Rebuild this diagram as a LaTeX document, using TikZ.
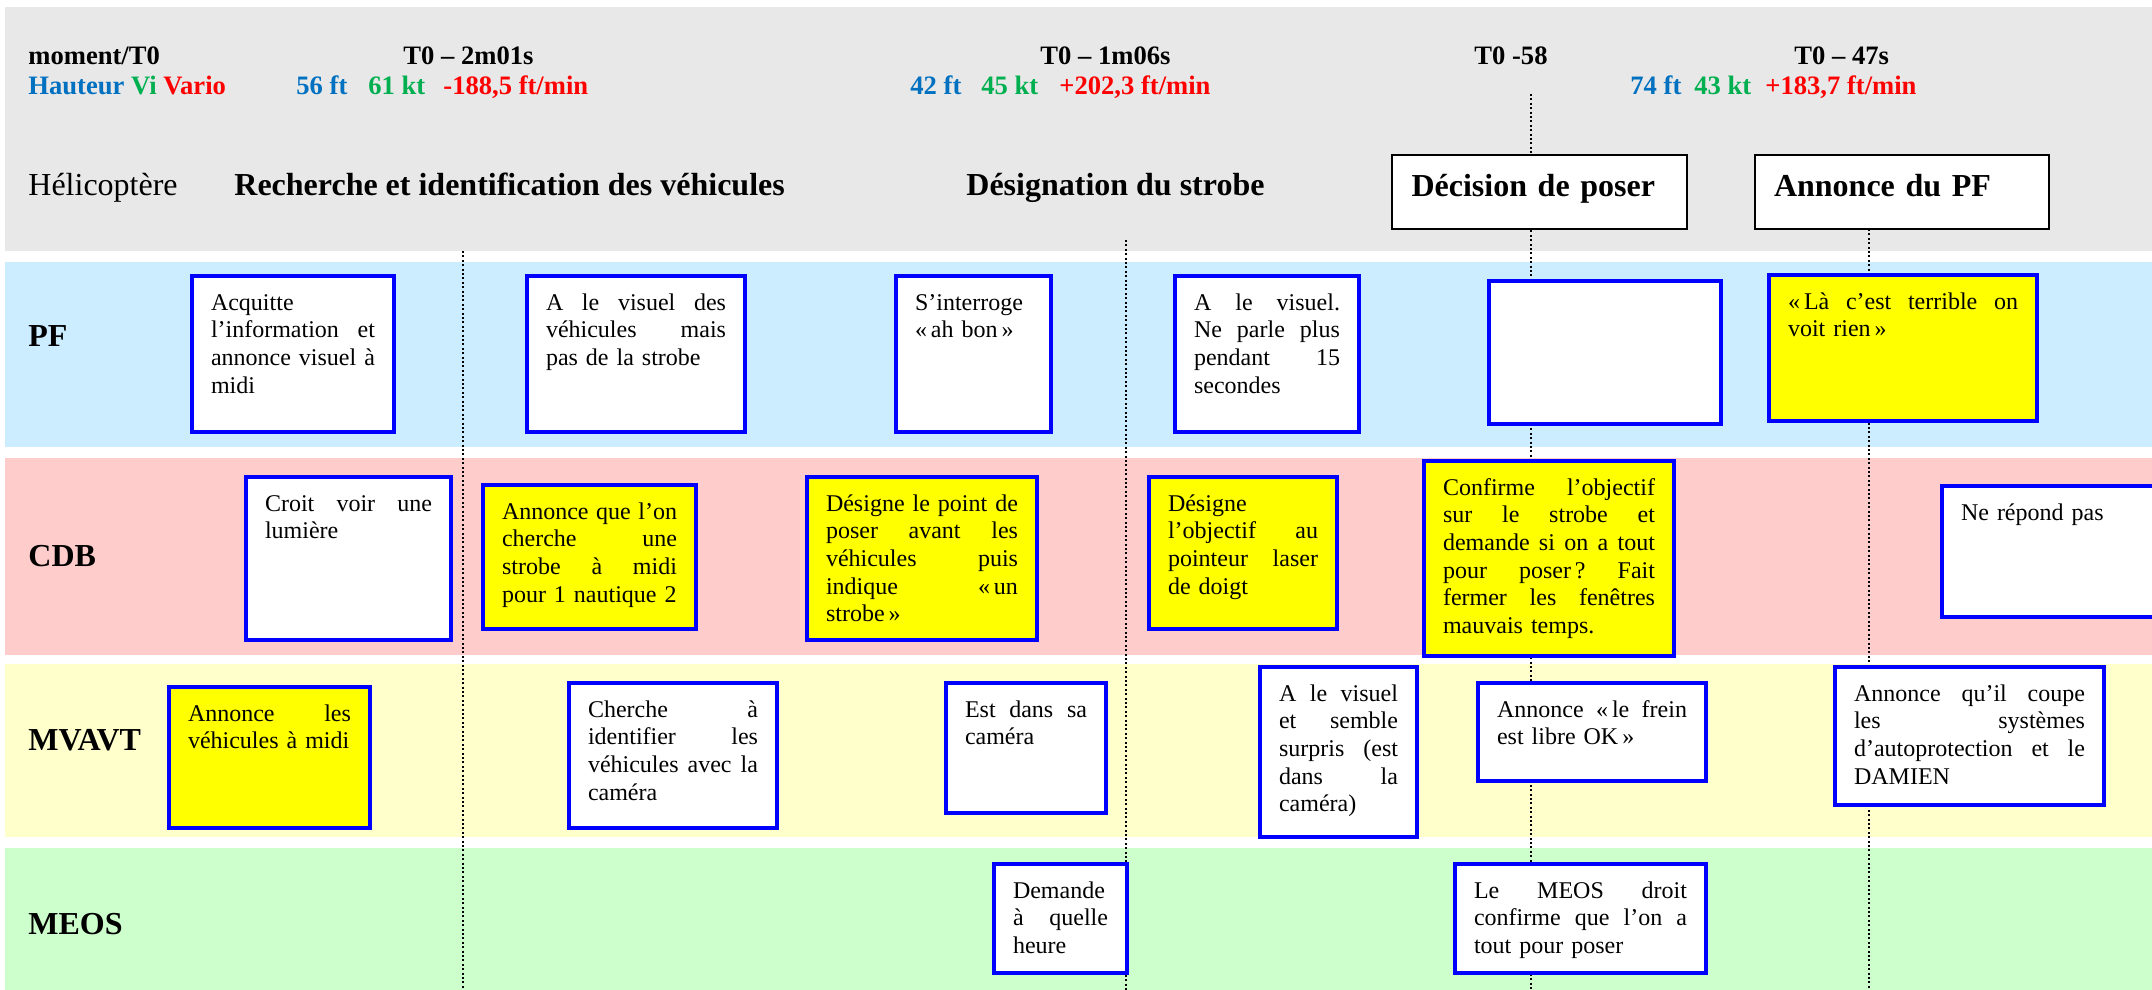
\documentclass[tikz,border=0pt]{standalone}
\usepackage{fontspec}
\setmainfont{Liberation Serif}
\definecolor{hdrgray}{RGB}{232,232,232}
\definecolor{pfblue}{RGB}{204,236,255}
\definecolor{cdbpink}{RGB}{255,204,204}
\definecolor{mvyellow}{RGB}{255,255,204}
\definecolor{meosgreen}{RGB}{204,255,204}
\definecolor{boxblue}{RGB}{0,0,255}
\definecolor{hlyellow}{RGB}{255,255,0}
\definecolor{hblue}{RGB}{0,112,192}
\definecolor{vgreen}{RGB}{0,176,80}
\definecolor{vred}{RGB}{255,0,0}
\newcommand\jl[1]{{\spaceskip=0.25em plus 1fil\xspaceskip=0.25em plus 1fil\makebox[\linewidth][s]{#1}}\\}
\tikzset{
  tbox/.style={draw=boxblue, line width=2pt, anchor=north west, inner xsep=9.5pt,
    inner ysep=0pt, text height=17pt, align=left, font=\fontsize{12}{13.85}\selectfont},
  lanelabel/.style={anchor=base west, inner sep=0pt, font=\fontsize{16}{19}\selectfont\bfseries},
  hdr/.style={anchor=base west, inner sep=0pt, font=\fontsize{13.3}{16}\selectfont\bfseries},
  phase/.style={anchor=base west, inner sep=0pt, font=\fontsize{16}{19}\selectfont\bfseries},
  phasebox/.style={draw=black, line width=1pt, fill=white, anchor=north west, inner xsep=9.5pt,
    inner ysep=0pt, text height=10pt, text depth=6pt, minimum height=37pt, text width=128pt,
    align=left, font=\fontsize{16}{19}\selectfont\bfseries},
  timeline/.style={line width=0.7pt, dash pattern=on 1pt off 1.2pt}
}
\newcommand\tbox[7]{%
  \pgfmathsetmacro\tbw{(#4-#2)*0.5-21}%
  \pgfmathsetmacro\tbd{(#5-#3)*0.5-19}%
  \node[tbox, fill=#6, text width=\tbw pt, text depth=\tbd pt] (#1) at (#2+2,#3+2) {#7};%
}
\begin{document}
\begin{tikzpicture}[x=0.5pt,y=-0.5pt]
\useasboundingbox (0,0) rectangle (2152,990);
\clip (0,0) rectangle (2152,990);
% bands
\fill[hdrgray] (5,7) rectangle (2152,251);
\fill[pfblue] (5,262) rectangle (2152,447);
\fill[cdbpink] (5,458) rectangle (2152,655);
\fill[mvyellow] (5,664) rectangle (2152,837);
\fill[meosgreen] (5,848) rectangle (2152,990);
% time markers
\coordinate (d1t) at (463,251); \coordinate (d1b) at (463,990);
\coordinate (d2t) at (1126,240); \coordinate (d2b) at (1126,990);
\coordinate (d3t) at (1531,94); \coordinate (d3b) at (1531,990);
\coordinate (d4t) at (1869,229); \coordinate (d4b) at (1869,990);
\draw[timeline] (d1t) -- (d1b);
\draw[timeline] (d2t) -- (d2b);
\draw[timeline] (d3t) -- (d3b);
\draw[timeline] (d4t) -- (d4b);
% header
\node[hdr] (mom) at (28,65) {moment/T0};
\node[hdr] (hvv) at (28,95) {\color{hblue}Hauteur \color{vgreen}Vi \color{vred}Vario};
\node[hdr] (t1) at (403,65) {T0 – 2m01s};
\node[hdr, text=hblue] (t1h) at (296,95) {56 ft};
\node[hdr, text=vgreen] (t1v) at (368,95) {61 kt};
\node[hdr, text=vred] (t1r) at (443,95) {-188,5 ft/min};
\node[hdr] (t2) at (1040,65) {T0 – 1m06s};
\node[hdr, text=hblue] (t2h) at (910,95) {42 ft};
\node[hdr, text=vgreen] (t2v) at (981,95) {45 kt};
\node[hdr, text=vred] (t2r) at (1059,95) {+202,3 ft/min};
\node[hdr] (t3) at (1474,65) {T0 -58};
\node[hdr] (t4) at (1794,65) {T0 – 47s};
\node[hdr, text=hblue] (t4h) at (1630,95) {74 ft};
\node[hdr, text=vgreen] (t4v) at (1694,95) {43 kt};
\node[hdr, text=vred] (t4r) at (1765,95) {+183,7 ft/min};
\node[anchor=base west, inner sep=0pt, font=\fontsize{16}{19}\selectfont] (heli) at (28,195) {Hélicoptère};
\node[phase] (ph1) at (234,195) {Recherche et identification des véhicules};
\node[phase] (ph2) at (966,195) {Désignation du strobe};
\node[phasebox, minimum width=147.5pt] (ph3) at (1391,154) {Décision de poser};
\node[phasebox, minimum width=147pt] (ph4) at (1754,154) {Annonce du PF};
% lane labels
\node[lanelabel] (lpf) at (28,346) {PF};
\node[lanelabel] (lcdb) at (28,566) {CDB};
\node[lanelabel] (lmv) at (28,750) {MVAVT};
\node[lanelabel] (lmeos) at (28,934) {MEOS};
% PF lane
\tbox{pf1}{188}{272}{394}{432}{white}{Acquitte\\ \jl{l’information et}\jl{annonce visuel à}midi}
\tbox{pf2}{523}{272}{745}{432}{white}{\jl{A le visuel des}\jl{véhicules mais}pas de la strobe}
\tbox{pf3}{892}{272}{1051}{432}{white}{S’interroge\\ «\,ah bon\,»}
\tbox{pf4}{1171}{272}{1359}{432}{white}{\jl{A le visuel.}\jl{Ne parle plus}\jl{pendant 15}secondes}
\tbox{pf5}{1485}{277}{1721}{424}{white}{}
\tbox{pf6}{1765}{271}{2037}{421}{hlyellow}{\jl{«\,Là c’est terrible on}voit rien\,»}
% CDB lane
\tbox{cdb1}{242}{473}{451}{640}{white}{\jl{Croit voir une}lumière}
\tbox{cdb2}{479}{481}{696}{629}{hlyellow}{\jl{Annonce que l’on}\jl{cherche une}\jl{strobe à midi}pour 1 nautique 2}
\tbox{cdb3}{803}{473}{1037}{640}{hlyellow}{\jl{Désigne le point de}\jl{poser avant les}\jl{véhicules puis}\jl{indique «\,un}strobe\,»}
\tbox{cdb4}{1145}{473}{1337}{629}{hlyellow}{Désigne\\ \jl{l’objectif au}\jl{pointeur laser}de doigt}
\tbox{cdb5}{1420}{457}{1674}{656}{hlyellow}{\jl{Confirme l’objectif}\jl{sur le strobe et}\jl{demande si on a tout}\jl{pour poser\,? Fait}\jl{fermer les fenêtres}mauvais temps.}
\tbox{cdb6}{1938}{482}{2180}{617}{white}{Ne répond pas}
% MVAVT lane
\tbox{mv1}{165}{683}{370}{828}{hlyellow}{\jl{Annonce les}véhicules à midi}
\tbox{mv2}{565}{679}{777}{828}{white}{\jl{Cherche à}\jl{identifier les}\jl{véhicules avec la}caméra}
\tbox{mv3}{942}{679}{1106}{813}{white}{\jl{Est dans sa}caméra}
\tbox{mv4}{1256}{663}{1417}{837}{white}{\jl{A le visuel}\jl{et semble}\jl{surpris (est}\jl{dans la}caméra)}
\tbox{mv5}{1474}{679}{1706}{781}{white}{\jl{Annonce «\,le frein}est libre OK\,»}
\tbox{mv6}{1831}{663}{2104}{805}{white}{\jl{Annonce qu’il coupe}\jl{les systèmes}\jl{d’autoprotection et le}DAMIEN}
% MEOS lane
\tbox{meos1}{990}{860}{1127}{973}{white}{Demande\\ \jl{à quelle}heure}
\tbox{meos2}{1451}{860}{1706}{973}{white}{\jl{Le MEOS droit}\jl{confirme que l’on a}tout pour poser}
\end{tikzpicture}
\end{document}
